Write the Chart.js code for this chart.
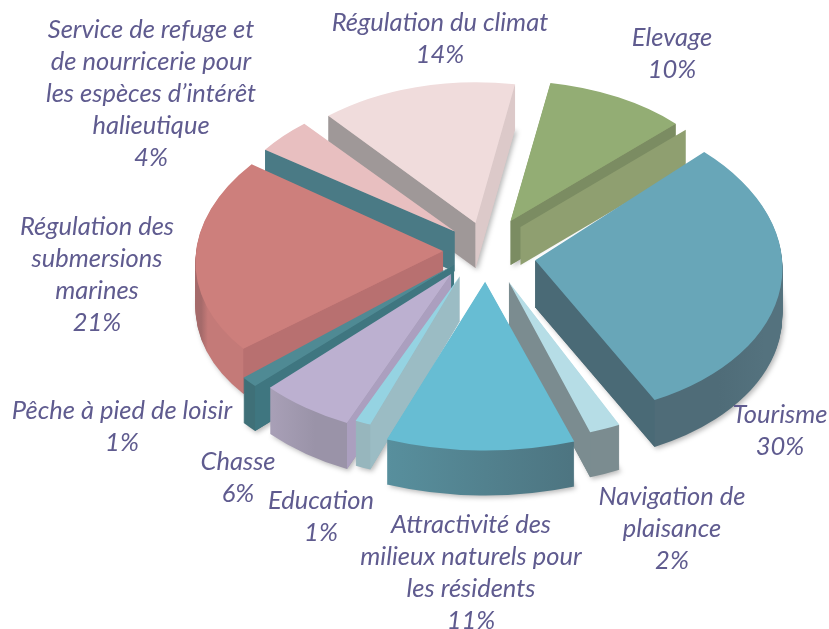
<!DOCTYPE html>
<html><head><meta charset="utf-8">
<style>html,body{margin:0;padding:0;background:#fff}canvas{display:block}</style>
<script src="https://cdn.jsdelivr.net/npm/chart.js@4"></script>
</head><body>
<canvas id="c" width="829" height="629"></canvas>
<script>
// Data
const categories = ["Elevage","Tourisme","Navigation de plaisance","Attractivité des milieux naturels pour les résidents","Education","Chasse","Pêche à pied de loisir","Régulation des submersions marines","Service de refuge et de nourricerie pour les espèces d’intérêt halieutique","Régulation du climat"];
const values = [10,30,2,11,1,6,1,21,4,14];
const labelLines = [["Elevage"],["Tourisme"],["Navigation de","plaisance"],["Attractivité des","milieux naturels pour","les résidents"],["Education"],["Chasse"],["Pêche à pied de loisir"],["Régulation des","submersions","marines"],["Service de refuge et","de nourricerie pour","les espèces d’intérêt","halieutique"],["Régulation du climat"]];
// Styles
const topColors  = ["#93ad74","#68a6b8","#b6dde6","#67bdd3","#95d3e2","#bcb0d0","#4f8a94","#cd7f7c","#e8bfc0","#f0dcdc"];
const wallLeft   = ["#8f9f70","#4f6c78","#7b8c90","#58909e","#a3c6cd","#b3a9c2","#3f7680","#c47a78","#4f7f8a","#b5aaaa"];
const wallRight  = ["#8f9f70","#54727e","#7b8c90","#4c727e","#97b6bd","#9a93a8","#3f7078","#a56a6a","#4f7f8a","#d8c8c8"];
const startFace  = ["#7f9068","#4a6a76","#7b8c90","#4f7f8c","#9bbcc4","#ab9fbf","#3f7680","#b87070","#4a7a85","#9f9898"];
const endFace    = ["#7b8c62","#4a6a76","#7b8c90","#4f7f8c","#9bbcc4","#ab9fbf","#3f7680","#b87070","#4a7a85","#dcc9c9"];
const panelFill  = "#8f9f70";
// Geometry of the exploded 3D view
const explode = [65,56,55,52,45,45,35,37,45,55];
const shiftX  = [0,0,8,6,-3,-3,0,0,8,10];
const shiftY  = [6,4,0,0,0,0,0,0,0,6];
const squash  = [.61,.63,.63,.61,.63,.65,.63,.61,.61,.62];
const grow    = [.93,1,1.02,1.12,1.02,1.02,1.12,1,.94,.92];
const shear   = [0,.08,0,0,0,0,0,-.12,0,0];
const depth   = [44,47,45,45,45,46,45,45,40,45];
const panelDx = [10,0,0,0,0,0,0,0,0,0];
const panelDy = [6,0,0,0,0,0,0,0,0,0];
const labelX  = [672,780,672,471,321,238,122,97,151,440];
const labelY  = [38,415,497,525,501,462,411,227,30,23];
const textColor = "#5f5b8f";
const textFont = "italic 25.5px Lato";
const lineGap = 32;

const view3d = {
  id:'view3d',
  beforeDatasetsDraw(chart){
    const ctx = chart.ctx;
    const arcs = chart.getDatasetMeta(0).data;
    const order = arcs.map((a,i)=>i).sort((p,q)=>{
      const m = i => (arcs[i].startAngle+arcs[i].endAngle)/2;
      return Math.sin(m(p))-Math.sin(m(q));
    });
    for(const i of order){
      const a = arcs[i];
      const {x,y,startAngle:s,endAngle:e,outerRadius:R} = a.getProps(['x','y','startAngle','endAngle','outerRadius'],true);
      const mid=(s+e)/2, q=squash[i], g=grow[i], d=depth[i], k=shear[i];
      const ax = x+Math.cos(mid)*explode[i]+shiftX[i], ay = y+Math.sin(mid)*explode[i]*q+shiftY[i];
      const place = (dy)=>{
        ctx.translate(ax,ay+dy); ctx.transform(1,0,k,1,0,0); ctx.scale(g,g*q); ctx.translate(-x,-y);
      };
      const pt = (ang,dy)=>{
        const ly=Math.sin(ang)*R*g*q;
        return [ax+Math.cos(ang)*R*g+k*ly, ay+dy+ly];
      };
      // outer wall (stack of the sector swept downward)
      const gradient = ctx.createLinearGradient(pt(e,0)[0],0,pt(s,0)[0],0);
      const lo = Math.cos(e)<Math.cos(s);
      gradient.addColorStop(0, lo?wallLeft[i]:wallRight[i]);
      gradient.addColorStop(1, lo?wallRight[i]:wallLeft[i]);
      for(let dy=d;dy>0;dy-=1){
        ctx.save();
        if(dy===d){ctx.shadowColor='rgba(0,0,0,.28)';ctx.shadowBlur=5;ctx.shadowOffsetX=2;ctx.shadowOffsetY=2;}
        ctx.setTransform(1,0,0,1,0,0);
        place(dy);
        ctx.beginPath();ctx.moveTo(x,y);ctx.arc(x,y,R,s,e);ctx.closePath();
        ctx.fillStyle=gradient;ctx.fill();
        ctx.restore();
      }
      // radial cut faces that look toward the viewer
      const quad=(ang,col,ox,oy)=>{
        const p=pt(ang,0),r=pt(ang,d);
        ctx.beginPath();ctx.moveTo(ax+ox,ay+oy);ctx.lineTo(p[0]+ox,p[1]+oy);ctx.lineTo(r[0]+ox,r[1]);ctx.lineTo(ax+ox,ay+d);ctx.closePath();
        ctx.fillStyle=col;ctx.fill();
      };
      if(Math.cos(s)<0) quad(s,startFace[i],0,0);
      if(Math.cos(e)>0) quad(e,endFace[i],0,0);
      if(panelDx[i]) quad(e,panelFill,panelDx[i],panelDy[i]);
      // top face, drawn by the arc element itself
      ctx.save();
      place(0);
      a.draw(ctx);
      ctx.restore();
    }
    return false;
  },
  afterDraw(chart){
    const ctx = chart.ctx;
    ctx.save();
    ctx.font=textFont;ctx.fillStyle=textColor;ctx.textAlign='center';ctx.textBaseline='middle';
    labelLines.forEach((lines,i)=>{
      const all = lines.concat([values[i]+"%"]);
      all.forEach((t,k)=>ctx.fillText(t,labelX[i],labelY[i]+k*lineGap));
    });
    ctx.restore();
  }
};

new Chart(document.getElementById('c'),{
  type:'pie',
  data:{labels:categories,datasets:[{data:values,backgroundColor:topColors,borderWidth:0,clip:false}]},
  options:{
    responsive:false,animation:false,rotation:10,radius:247,
    layout:{padding:{left:131,bottom:129}},
    plugins:{legend:{display:false},tooltip:{enabled:false}}
  },
  plugins:[view3d]
});
</script>
</body></html>
